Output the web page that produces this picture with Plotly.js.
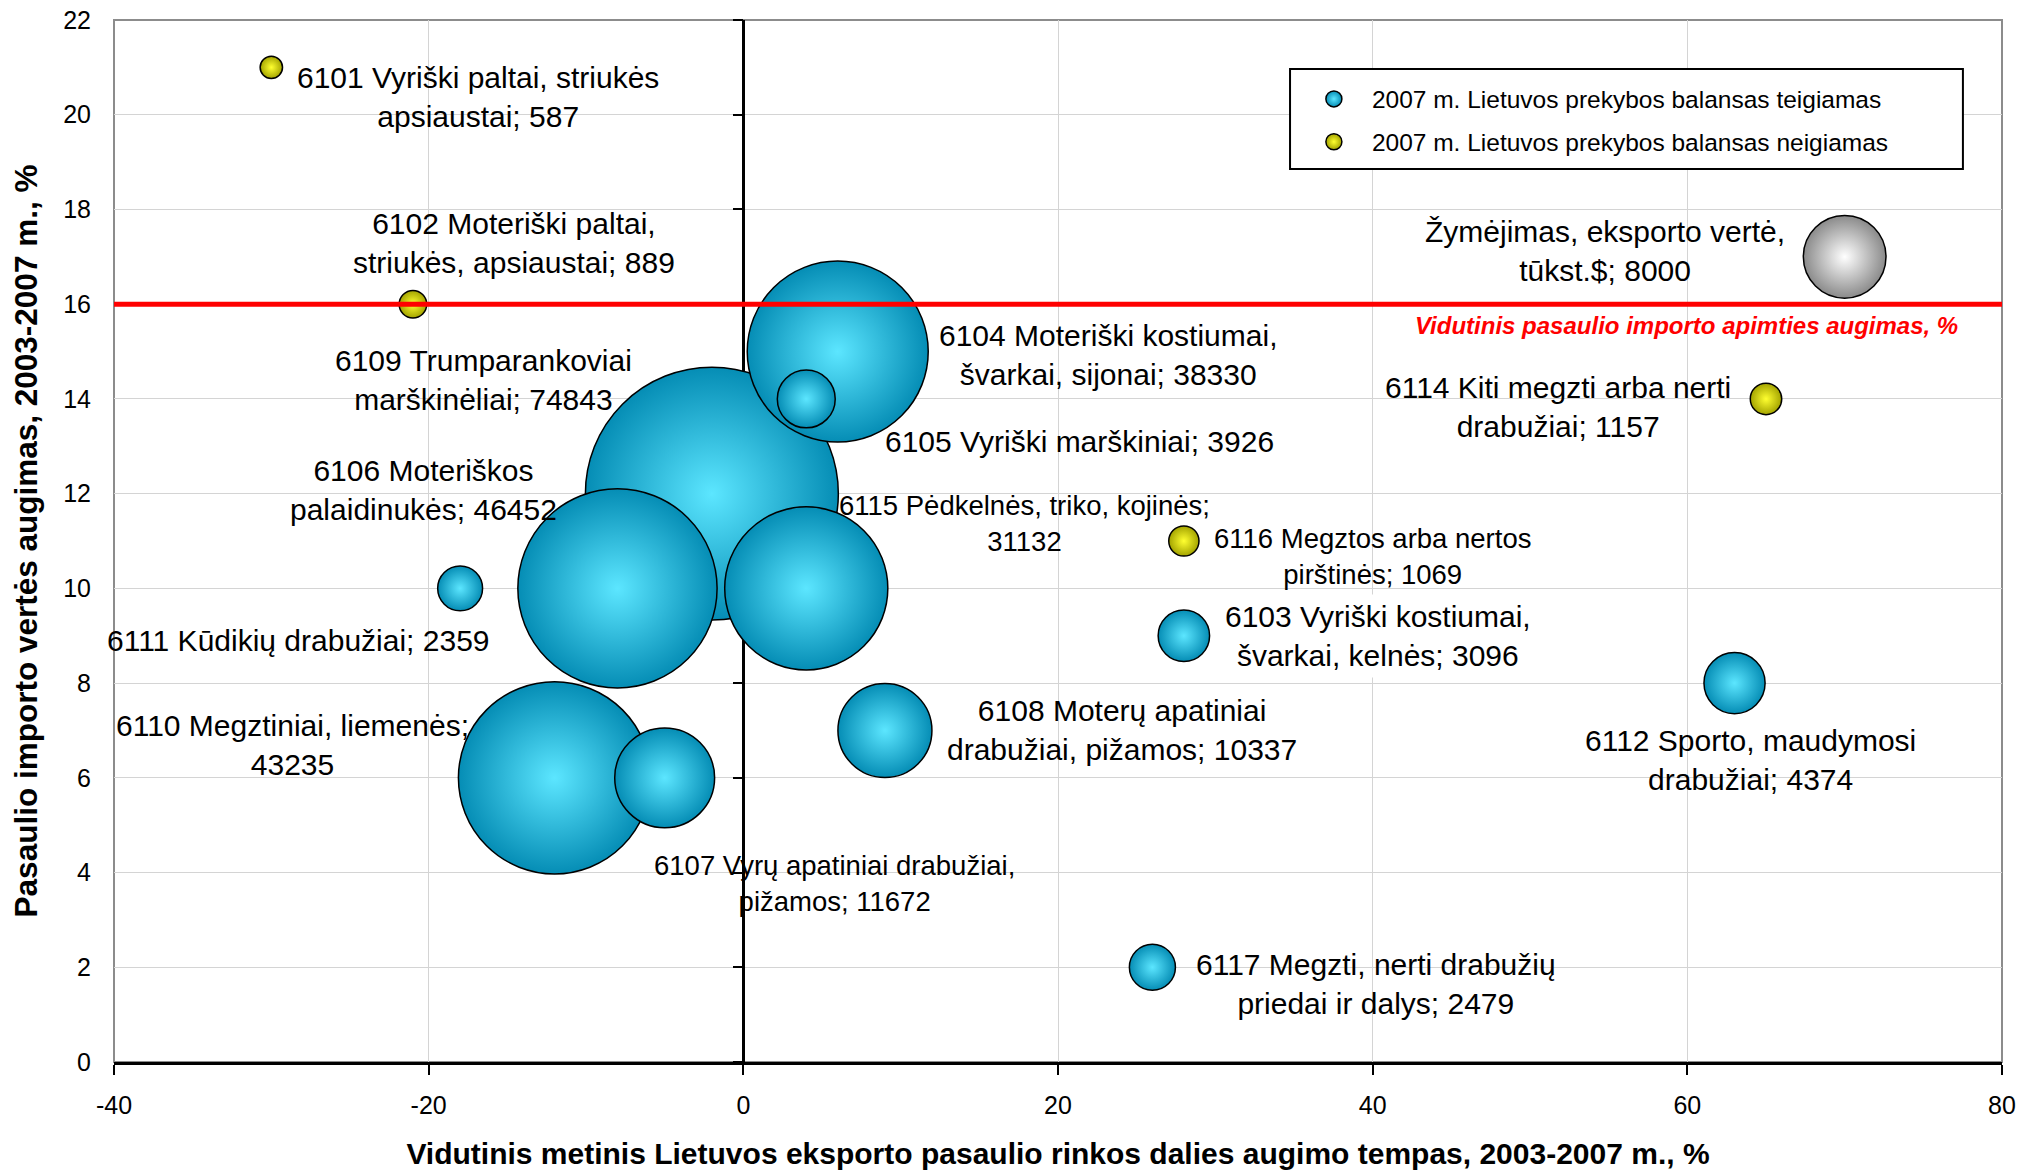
<!DOCTYPE html>
<html><head><meta charset="utf-8">
<script src="https://cdn.plot.ly/plotly-3.0.1.min.js"></script>
<style>html,body{margin:0;padding:0;background:#fff}#chart{width:2038px;height:1176px}</style>
</head><body><div id="chart"></div>
<script>
// ---------------- DATA ----------------
// 2007 m. Lietuvos prekybos balansas teigiamas (positive trade balance)
const positiveNames = [
  "6109 Trumparankoviai<br>marškinėliai",
  "6106 Moteriškos<br>palaidinukės",
  "6110 Megztiniai, liemenės",
  "6104 Moteriški kostiumai,<br>švarkai, sijonai",
  "6115 Pėdkelnės, triko, kojinės",
  "6107 Vyrų apatiniai drabužiai,<br>pižamos",
  "6108 Moterų apatiniai<br>drabužiai, pižamos",
  "6112 Sporto, maudymosi<br>drabužiai",
  "6105 Vyriški marškiniai",
  "6103 Vyriški kostiumai,<br>švarkai, kelnės",
  "6117 Megzti, nerti drabužių<br>priedai ir dalys",
  "6111 Kūdikių drabužiai"
];
const positiveX = [-2, -8, -12, 6, 4, -5, 9, 63, 4, 28, 26, -18];
const positiveY = [12, 10, 6, 15, 10, 6, 7, 8, 14, 9, 2, 10];
const positiveExport = [74843, 46452, 43235, 38330, 31132, 11672, 10337, 4374, 3926, 3096, 2479, 2359];

// 2007 m. Lietuvos prekybos balansas neigiamas (negative trade balance)
const negativeNames = [
  "6114 Kiti megzti arba nerti<br>drabužiai",
  "6116 Megztos arba nertos<br>pirštinės",
  "6102 Moteriški paltai,<br>striukės, apsiaustai",
  "6101 Vyriški paltai, striukės<br>apsiaustai"
];
const negativeX = [65, 28, -21, -30];
const negativeY = [14, 11, 16, 21];
const negativeExport = [1157, 1069, 889, 587];

// size key bubble
const keyNames = ["Žymėjimas, eksporto vertė,<br>tūkst.$"];
const keyX = [70];
const keyY = [17];
const keyExport = [8000];

// world import growth average
const avgImportGrowth = 16;

const xRange = [-40, 80];
const yRange = [0, 22];
const xTicks = [-40, -20, 0, 20, 40, 60, 80];
const yTicks = [0, 2, 4, 6, 8, 10, 12, 14, 16, 18, 20, 22];

const seriesNames = [
  "2007 m. Lietuvos prekybos balansas teigiamas",
  "2007 m. Lietuvos prekybos balansas neigiamas"
];
const xTitle = "Vidutinis metinis Lietuvos eksporto pasaulio rinkos dalies augimo tempas, 2003-2007 m., %";
const yTitle = "Pasaulio importo vertės augimas, 2003-2007 m., %";
const avgLabel = "Vidutinis pasaulio importo apimties augimas, %";

// ---------------- STYLE ----------------
const FONT = "Liberation Sans, Arial, Helvetica, sans-serif";
const SIZEREF = 2.34;
// label placement (pixel offsets from bubble centre), keyed by code
const labelStyle = {
  "6109": {dx: -228, dy: -114},
  "6106": {dx: -194, dy: -98},
  "6110": {dx: -262, dy: -33, brk: true},
  "6104": {dx: 270, dy: 3},
  "6115": {dx: 218, dy: -65, brk: true, small: true},
  "6107": {dx: 170, dy: 106, small: true},
  "6108": {dx: 237, dy: 0},
  "6112": {dx: 16, dy: 77},
  "6105": {dx: 273, dy: 43},
  "6103": {dx: 194, dy: 0, bg: true},
  "6117": {dx: 224, dy: 17},
  "6111": {dx: -162, dy: 52},
  "6114": {dx: -208, dy: 8},
  "6116": {dx: 189, dy: 15, small: true},
  "6102": {dx: 101, dy: -61},
  "6101": {dx: 207, dy: 30},
  "key":  {dx: -240, dy: -6}
};

function bubbleTrace(name, xs, ys, vals, edge, centre, legend, group) {
  return {
    type: "scatter", mode: "markers", name: name,
    x: xs, y: ys, showlegend: legend, legendgroup: group,
    hoverinfo: "skip",
    marker: {
      size: vals, sizemode: "area", sizeref: SIZEREF,
      color: edge, gradient: {type: "radial", color: centre},
      line: {color: "#000", width: 1.5}, opacity: 1
    }
  };
}

const traces = [
  bubbleTrace(seriesNames[0], positiveX, positiveY, positiveExport, "#058db5", "#5ce6ff", true, "g1"),
  bubbleTrace(seriesNames[1], negativeX, negativeY, negativeExport, "#a3a300", "#ffff30", true, "g2"),
  bubbleTrace("key", keyX, keyY, keyExport, "#8a8a8a", "#ffffff", false, "g3"),
  {
    type: "scatter", mode: "lines", x: xRange, y: [avgImportGrowth, avgImportGrowth],
    xaxis: "x", yaxis: "y2", showlegend: false, hoverinfo: "skip",
    line: {color: "#ff0000", width: 5}
  }
];

const annotations = [];
function addLabels(names, xs, ys, vals, codeFn) {
  names.forEach((n, i) => {
    const code = codeFn(n);
    const st = labelStyle[code];
    const text = n + ";" + (st.brk ? "<br>" : " ") + vals[i];
    annotations.push({
      xref: "x", yref: "y", x: xs[i], y: ys[i], text: text,
      showarrow: false, xanchor: "center", yanchor: "middle", align: "center",
      xshift: st.dx, yshift: -st.dy,
      font: {family: FONT, size: st.small ? 27.5 : 30, color: "#000"},
      bgcolor: st.bg ? "#ffffff" : "rgba(0,0,0,0)", borderpad: st.bg ? 5 : 0
    });
  });
}
addLabels(positiveNames, positiveX, positiveY, positiveExport, n => n.slice(0, 4));
addLabels(negativeNames, negativeX, negativeY, negativeExport, n => n.slice(0, 4));
addLabels(keyNames, keyX, keyY, keyExport, () => "key");

annotations.push({
  xref: "paper", yref: "y", x: 1, y: avgImportGrowth, text: "<b><i>" + avgLabel + "</i></b>",
  showarrow: false, xanchor: "right", yanchor: "middle", xshift: -42, yshift: -21,
  font: {family: FONT, size: 24, color: "#ff0000"}
});

const layout = {
  width: 2038, height: 1176,
  margin: {l: 114, r: 36, t: 20, b: 114},
  paper_bgcolor: "#fff", plot_bgcolor: "#fff",
  font: {family: FONT, color: "#000"},
  showlegend: true,
  legend: {
    x: 0.626, y: 0.9458, xanchor: "left", yanchor: "top",
    bgcolor: "rgba(0,0,0,0)", borderwidth: 0,
    font: {family: FONT, size: 24.5, color: "#000"},
    itemsizing: "trace", traceorder: "grouped", tracegroupgap: 8,
    itemwidth: 66
  },
  xaxis: {
    range: xRange, tickmode: "array", tickvals: xTicks, ticktext: xTicks.map(String), fixedrange: true,
    showgrid: true, gridcolor: "#d4d4d4", gridwidth: 1,
    zeroline: true, zerolinecolor: "#000", zerolinewidth: 3,
    showline: true, linecolor: "#000", linewidth: 3,
    ticks: "outside", ticklen: 10, tickwidth: 2, tickcolor: "#000",
    ticklabelstandoff: 9,
    tickfont: {family: FONT, size: 25, color: "#000"},
    title: {text: "<b>" + xTitle + "</b>", font: {family: FONT, size: 30, color: "#000"}, standoff: 25}
  },
  yaxis: {
    range: yRange, tickmode: "array", tickvals: yTicks, ticktext: yTicks.map(String), fixedrange: true,
    showgrid: true, gridcolor: "#d4d4d4", gridwidth: 1,
    zeroline: false, showline: false, ticks: "",
    ticklabelstandoff: 22,
    tickfont: {family: FONT, size: 25, color: "#000"},
    title: {text: "<b>" + yTitle + "</b>", font: {family: FONT, size: 31.5, color: "#000"}, standoff: 16}
  },
  yaxis2: {
    overlaying: "y", anchor: "free", side: "left",
    position: (0 - xRange[0]) / (xRange[1] - xRange[0]),
    range: yRange, tickmode: "array", tickvals: yTicks, fixedrange: true,
    showgrid: false, zeroline: false, showline: false, showticklabels: false,
    ticks: "outside", ticklen: 10, tickwidth: 2, tickcolor: "#000",
    layer: "below traces"
  },
  shapes: [
    {
      type: "rect", xref: "paper", yref: "paper", x0: 0, x1: 1, y0: 0, y1: 1,
      line: {color: "#8c8c8c", width: 2}, fillcolor: "rgba(0,0,0,0)", layer: "below"
    },
    {
      // legend frame
      type: "rect", xref: "paper", yref: "paper", x0: 0.6229, x1: 0.9793, y0: 0.857, y1: 0.953,
      line: {color: "#000", width: 2}, fillcolor: "#ffffff", layer: "above"
    }
  ],
  annotations: annotations
};

Plotly.newPlot("chart", traces, layout, {displayModeBar: false, staticPlot: true});
</script>
</body></html>
